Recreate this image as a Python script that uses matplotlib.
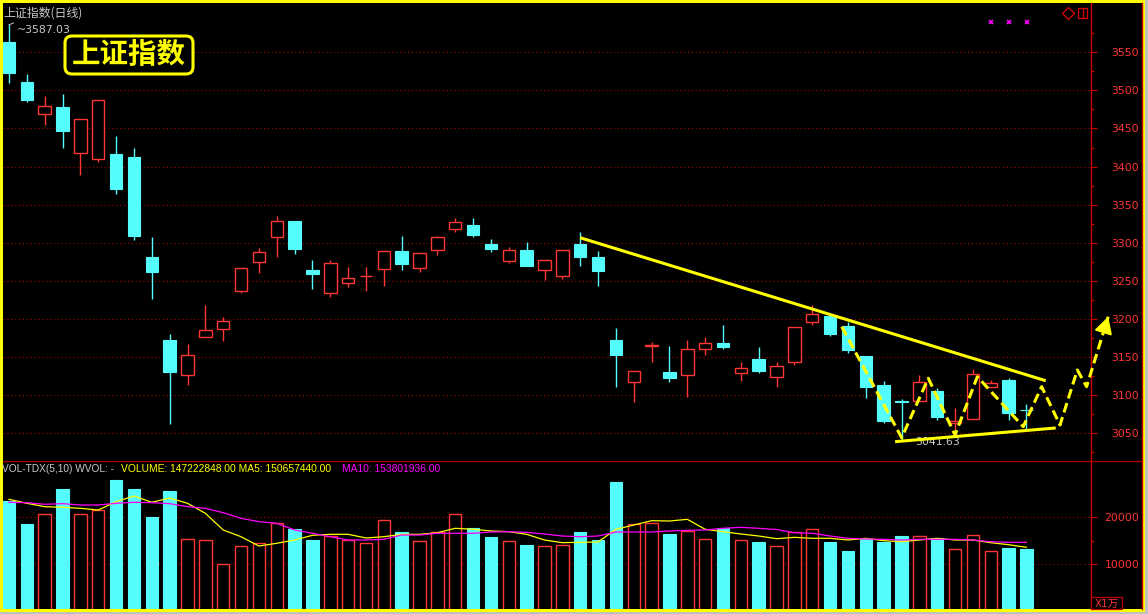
import matplotlib
matplotlib.use('Agg')
import matplotlib.pyplot as plt
from matplotlib.patches import Rectangle, FancyBboxPatch
from matplotlib.lines import Line2D
from matplotlib.transforms import IdentityTransform
import numpy as np

plt.rcParams['font.family'] = ['DejaVu Sans', 'Noto Sans CJK SC']

# ---------------- data ----------------
opens = [3563, 3511, 3469, 3478, 3418, 3410, 3417, 3412, 3281, 3172,
         3127, 3176, 3187, 3237, 3275, 3307, 3328, 3264, 3234, 3247,
         3256, 3266, 3289, 3267, 3291, 3318, 3324, 3298, 3276, 3290,
         3264, 3256, 3299, 3281, 3172, 3117, 3164, 3130, 3127, 3161,
         3169, 3129, 3147, 3124, 3144, 3196, 3204, 3191, 3152, 3113,
         3092, 3093, 3105, 3063, 3069, 3111, 3120, 3081]
highs = [3587.03, 3522, 3493, 3495, 3462, 3487, 3440, 3425, 3307, 3180,
         3167, 3218, 3202, 3267, 3293, 3335, 3328, 3277, 3278, 3268,
         3268, 3289, 3309, 3287, 3309, 3332, 3333, 3305, 3295, 3301,
         3278, 3291, 3314, 3289, 3188, 3132, 3170, 3164, 3173, 3176,
         3192, 3143, 3163, 3144, 3190, 3219, 3205, 3196, 3152, 3118,
         3095, 3126, 3110, 3083, 3134, 3120, 3122, 3088]
lows = [3510, 3485, 3454, 3424, 3389, 3406, 3364, 3304, 3226, 3062,
        3113, 3176, 3171, 3234, 3260, 3282, 3285, 3239, 3229, 3242,
        3237, 3243, 3264, 3262, 3284, 3314, 3308, 3288, 3273, 3270,
        3251, 3252, 3270, 3243, 3111, 3091, 3144, 3117, 3098, 3153,
        3161, 3119, 3129, 3111, 3140, 3192, 3178, 3155, 3096, 3064,
        3041.63, 3093, 3067, 3050, 3069, 3111, 3068, 3053]
closes = [3523, 3488, 3480, 3447, 3462, 3487, 3371, 3309, 3262, 3130,
          3153, 3185, 3198, 3267, 3288, 3329, 3292, 3259, 3273, 3254,
          3256, 3289, 3272, 3287, 3307, 3327, 3310, 3292, 3290, 3270,
          3278, 3290, 3281, 3263, 3153, 3132, 3166, 3123, 3160, 3168,
          3163, 3136, 3132, 3138, 3190, 3207, 3180, 3159, 3111, 3066,
          3091.5, 3117, 3071, 3066, 3128, 3116, 3076, 3080.5]
# volume in units of 1万
volume = [23470, 18570, 20700, 26020, 20700, 21620, 27940, 26020, 20060, 25600,
          15320, 15100, 10000, 13830, 14530, 18720, 17510, 15170, 15960, 15100,
          14470, 19430, 16870, 14960, 16870, 20700, 17720, 15810, 14960, 14110,
          13830, 14040, 16870, 15170, 27510, 18570, 18790, 16450, 17080, 15320,
          17720, 15100, 14740, 13830, 16870, 17510, 14740, 12830, 15380, 14740,
          16020, 16020, 15600, 13260, 16230, 12830, 13470, 13260]
vol_ma5 = [23830, 22980, 22260, 22130, 21910, 21550, 23320, 24530, 23190, 24100,
           22980, 20850, 17300, 15870, 13890, 14470, 15170, 16170, 16380, 16380,
           15600, 15870, 16380, 16380, 16720, 17660, 17450, 17090, 16940, 16380,
           15170, 14600, 14680, 14740, 17450, 18360, 19280, 19210, 19570, 17450,
           16940, 16450, 16020, 15450, 15740, 15530, 15530, 15170, 15530, 15020,
           14810, 15170, 15530, 15170, 15170, 14600, 14170, 13620]
vol_ma10 = [23190, 23110, 22770, 22900, 22620, 22620, 22980, 23190, 23110, 22900,
            22260, 21910, 20980, 19790, 19070, 18720, 17300, 16600, 15870, 15170,
            15170, 15320, 16230, 16230, 16600, 16600, 16600, 16870, 16940, 16800,
            16450, 16020, 15870, 16020, 16870, 16870, 16870, 17090, 17230, 17300,
            17660, 17870, 17660, 17400, 16720, 16600, 16020, 15530, 15380, 15320,
            15170, 15320, 15320, 15320, 15170, 14810, 14680, 14680]

price_ticks = [3050, 3100, 3150, 3200, 3250, 3300, 3350, 3400, 3450, 3500, 3550]
vol_ticks = [10000, 20000]

# drawn annotations in (bar index, price)
upper_trend_x = [31.99, 58.08]
upper_trend_y = [3306.7, 3119.0]
lower_trend_x = [49.64, 58.64]
lower_trend_y = [3039.0, 3057.0]
zigzag_x = [46.65, 50.01, 51.50, 53.00, 54.25, 56.82, 57.85, 58.88, 59.85, 60.37, 61.58]
zigzag_y = [3189.9, 3044.2, 3122.2, 3047.8, 3124.3, 3058.7, 3111.2, 3060.9, 3133.1, 3111.2, 3203.0]

title_text = "上证指数(日线)"
badge_text = "上证指数"
vol_head_1 = "VOL-TDX(5,10) WVOL: -"
vol_head_2 = "VOLUME: 147222848.00 MA5: 150657440.00"
vol_head_3 = "MA10: 153801936.00"

# ---------------- style ----------------
UP = '#ff3434'
DOWN = '#54fcfc'
GRID = '#a80000'
AXIS = '#d00000'
YEL = '#ffff00'
MAG = '#ff00ff'
TXT = '#c8c8c8'

W, H = 1148, 614
fig = plt.figure(figsize=(W / 100, H / 100), dpi=100)
fig.patch.set_facecolor('#c0c0c0')


def fx(x):
    return x / W


def fy(y):
    return 1 - y / H


fig.add_artist(Rectangle((0, fy(612)), fx(1145), 612 / H, transform=fig.transFigure,
                         facecolor=YEL, edgecolor='none', zorder=-3))
fig.add_artist(Rectangle((fx(3), fy(609)), fx(1142) - fx(3), (609 - 3) / H, transform=fig.transFigure,
                         facecolor='black', edgecolor='none', zorder=-2))

# axes geometry
xl, xr = 3, 1090.7
ax = fig.add_axes([fx(xl), fy(460), fx(xr) - fx(xl), fy(3) - fy(460)])
axv = fig.add_axes([fx(xl), fy(609), fx(xr) - fx(xl), fy(461) - fy(609)])

n = len(opens)
xs = np.arange(n)
o = np.array(opens, float)
h = np.array(highs, float)
l = np.array(lows, float)
c = np.array(closes, float)
up = c >= o
cols = np.where(up, UP, DOWN)

xmin = (xl - 9) / 17.85
xmax = (xr - 9) / 17.85

for a in (ax, axv):
    a.set_facecolor('black')
    a.set_xlim(xmin, xmax)
    for s in ('left', 'top', 'bottom'):
        a.spines[s].set_visible(False)
    a.spines['right'].set_color(AXIS)
    a.spines['right'].set_linewidth(1.0)
    a.tick_params(axis='x', bottom=False, labelbottom=False)
    a.yaxis.tick_right()

# price panel
ppu = 381 / 500
ax.set_ylim(3050 - (460 - 433.3) / ppu, 3050 + (433.3 - 3) / ppu)
ax.vlines(xs, l, h, colors=cols, linewidth=1.0, zorder=2)
bw = 0.70
body_bottom = np.minimum(o, c)
body_h = np.maximum(np.abs(c - o), 0.3)
ax.bar(xs[up], body_h[up], bottom=body_bottom[up], width=bw, facecolor='black',
       edgecolor=UP, linewidth=1.0, zorder=3)
ax.bar(xs[~up], body_h[~up], bottom=body_bottom[~up], width=bw, facecolor=DOWN,
       edgecolor=DOWN, linewidth=0.8, zorder=3)

ax.set_yticks(price_ticks)
ax.set_yticks([p + 25 for p in [3000] + price_ticks], minor=True)
ax.set_yticklabels([str(p) for p in price_ticks])
ax.tick_params(axis='y', which='major', length=4, width=0.8, color=AXIS, labelcolor=UP,
               labelsize=7.8, pad=31)
ax.tick_params(axis='y', which='minor', length=2.2, width=0.8, color=AXIS)
for lb in ax.get_yticklabels():
    lb.set_ha('right')
for p in price_ticks:
    ax.axhline(p, color=GRID, linewidth=0.8, linestyle=(0, (1, 2.5)), zorder=1)

# trend lines & zigzag
ax.plot(upper_trend_x, upper_trend_y, color=YEL, linewidth=2.2, solid_capstyle='butt', zorder=5)
ax.plot(lower_trend_x, lower_trend_y, color=YEL, linewidth=2.2, solid_capstyle='butt', zorder=5)
ax.plot(zigzag_x, zigzag_y, color=YEL, linewidth=2.2, dashes=(3.2, 1.6), clip_on=False, zorder=6)
tip = (zigzag_x[-1], zigzag_y[-1])
base = (zigzag_x[-1] - 0.2 * (zigzag_x[-1] - zigzag_x[-2]),
        zigzag_y[-1] - 0.2 * (zigzag_y[-1] - zigzag_y[-2]))
ax.annotate('', xy=tip, xytext=base,
            arrowprops=dict(arrowstyle='-|>,head_length=1.0,head_width=0.55', color=YEL,
                            lw=1.5, shrinkA=0, shrinkB=0),
            annotation_clip=False, zorder=7)

# extreme labels
ih = int(np.argmax(h))
il = int(np.argmin(l))
ax.annotate(f"~{h[ih]:.2f}", xy=(ih, h[ih]), xytext=(6, -4), textcoords='offset points',
            color=TXT, fontsize=7.8, va='center', ha='left', family='DejaVu Sans', zorder=8)
ax.plot([ih, ih + 0.25], [h[ih] - 1, h[ih] + 1.5], color=TXT, lw=0.7, zorder=8)
ax.annotate(f"{l[il]:.2f}", xy=(il, l[il]), xytext=(10, -2), textcoords='offset points',
            color=TXT, fontsize=7.8, va='center', ha='left', family='DejaVu Sans', zorder=4)

# volume panel
vpu = 47 / 10000
axv.set_ylim((611.3 - 609) / vpu, (611.3 - 461) / vpu)
v = np.array(volume, float)
axv.bar(xs[up], v[up], width=bw, facecolor='black', edgecolor=UP, linewidth=1.0, zorder=3)
axv.bar(xs[~up], v[~up], width=bw, facecolor=DOWN, edgecolor=DOWN, linewidth=0.8, zorder=3)
axv.plot(xs, vol_ma5, color=YEL, linewidth=0.9, zorder=4)
axv.plot(xs, vol_ma10, color=MAG, linewidth=0.9, zorder=4)
axv.set_yticks(vol_ticks)
axv.set_yticks([15000], minor=True)
axv.set_yticklabels([str(t) for t in vol_ticks])
axv.tick_params(axis='y', which='major', length=4, width=0.8, color=AXIS, labelcolor=UP,
                labelsize=7.8, pad=31)
axv.tick_params(axis='y', which='minor', length=2.2, width=0.8, color=AXIS)
for lb in axv.get_yticklabels():
    lb.set_ha('right')
for t in vol_ticks:
    axv.axhline(t, color=GRID, linewidth=0.8, linestyle=(0, (1, 2.5)), zorder=1)

# ---------------- figure-level decorations ----------------
fig.add_artist(Line2D([fx(3), fx(1142)], [fy(460.5), fy(460.5)], transform=fig.transFigure,
                      color='#a00000', linewidth=1.0, zorder=5))
fig.add_artist(Line2D([fx(1141.5), fx(1141.5)], [fy(3), fy(609)], transform=fig.transFigure,
                      color='#c00000', linewidth=1.0, zorder=5))

fig.text(fx(3), fy(13), title_text, color=TXT, fontsize=8.6, va='center', ha='left',
         family=['Noto Sans CJK SC', 'DejaVu Sans'])

badge = FancyBboxPatch((68, H - 71), 122, 32, boxstyle='round,pad=3,rounding_size=7',
                       transform=IdentityTransform(), facecolor='black', edgecolor=YEL,
                       linewidth=2.2, zorder=6)
fig.add_artist(badge)
fig.text(fx(129), fy(55.5), badge_text, color=YEL, fontsize=20.5, fontweight='bold',
         va='center', ha='center', family=['Noto Sans CJK SC'], zorder=7)

fig.text(fx(2), fy(469), vol_head_1, color=TXT, fontsize=7.3, va='center', ha='left',
         family='Liberation Sans')
fig.text(fx(120.7), fy(469), vol_head_2, color=YEL, fontsize=7.4, va='center', ha='left',
         family='Liberation Sans')
fig.text(fx(342), fy(469), vol_head_3, color=MAG, fontsize=7.4, va='center', ha='left',
         family='Liberation Sans')

# top-right icons
for xx in (991, 1009, 1027):
    fig.add_artist(Line2D([fx(xx)], [fy(22)], transform=fig.transFigure, marker='x',
                          markersize=3.5, color=MAG, markeredgewidth=1.2, zorder=6))
fig.add_artist(Line2D([fx(1068)], [fy(13)], transform=fig.transFigure, marker='D',
                      markersize=6, markerfacecolor='none', markeredgecolor='#e00000',
                      markeredgewidth=0.9, zorder=6))
fig.add_artist(Rectangle((fx(1078), fy(18)), fx(1087) - fx(1078), 10 / H, transform=fig.transFigure,
                         facecolor='none', edgecolor='#e00000', linewidth=0.9, zorder=6))
fig.add_artist(Line2D([fx(1083), fx(1083)], [fy(8), fy(18)], transform=fig.transFigure,
                      color='#e00000', linewidth=0.9, zorder=6))

# X1万 unit box
fig.add_artist(Rectangle((fx(1091), fy(609)), fx(1122) - fx(1091), 12 / H, transform=fig.transFigure,
                         facecolor='black', edgecolor='#c00000', linewidth=0.9, zorder=6))
fig.text(fx(1106.5), fy(603.5), "X1万", color=UP, fontsize=7.5, va='center', ha='center',
         family=['DejaVu Sans', 'Noto Sans CJK SC'], zorder=7)

fig.savefig('out.png', dpi=100, facecolor=fig.get_facecolor())
